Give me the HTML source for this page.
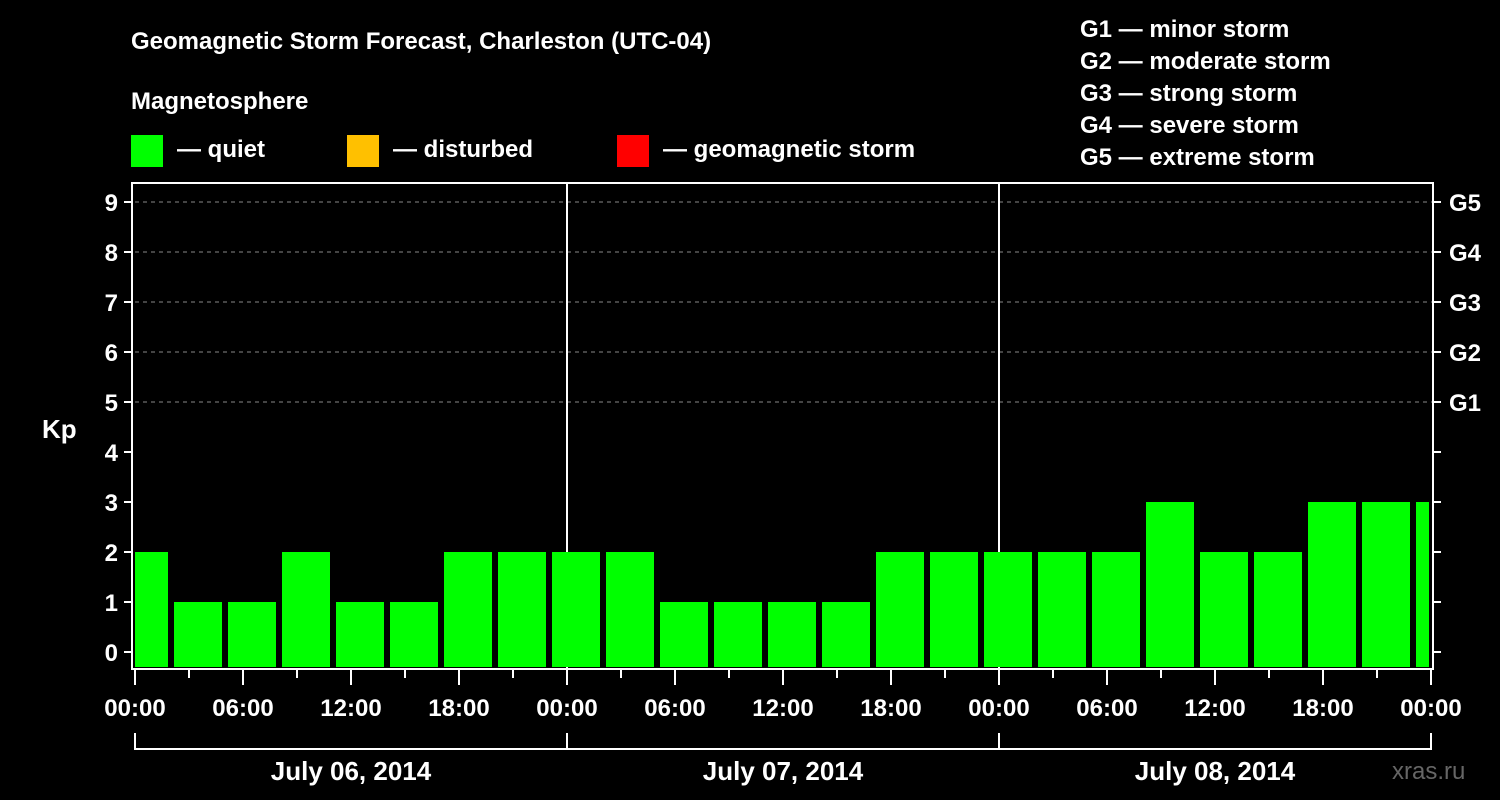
<!DOCTYPE html>
<html><head><meta charset="utf-8"><style>
html,body{margin:0;padding:0;background:#000;}
svg{display:block;font-family:"Liberation Sans",Arial,sans-serif;font-weight:bold;}
</style></head><body>
<svg id="chart" width="1500" height="800" viewBox="0 0 1500 800">
<text x="131" y="49" fill="#fff" font-size="24">Geomagnetic Storm Forecast, Charleston (UTC-04)</text>
<text x="131" y="109" fill="#fff" font-size="24">Magnetosphere</text>
<g><rect x="131" y="135" width="32" height="32" fill="#00ff00"/><text x="177" y="157" fill="#fff" font-size="24">— quiet</text></g>
<g><rect x="347" y="135" width="32" height="32" fill="#ffc000"/><text x="393" y="157" fill="#fff" font-size="24">— disturbed</text></g>
<g><rect x="617" y="135" width="32" height="32" fill="#ff0000"/><text x="663" y="157" fill="#fff" font-size="24">— geomagnetic storm</text></g>
<g fill="#fff" font-size="24">
<text x="1080" y="37">G1 — minor storm</text>
<text x="1080" y="69">G2 — moderate storm</text>
<text x="1080" y="101">G3 — strong storm</text>
<text x="1080" y="133">G4 — severe storm</text>
<text x="1080" y="165">G5 — extreme storm</text>
</g>
<text x="42" y="438" fill="#fff" font-size="26">Kp</text>
<text x="1392" y="779" fill="#666" font-size="24" font-weight="normal">xras.ru</text>
<g id="grid"></g>
<g id="bars"></g>
<g id="axes"></g>
</svg>
<script>
const kpValues=[2,1,1,2,1,1,2,2,2,2,1,1,1,1,2,2,2,2,2,3,2,2,3,3,3];
const barStartHours=[-1,2,5,8,11,14,17,20,23,26,29,32,35,38,41,44,47,50,53,56,59,62,65,68,71];
const yTicks=[0,1,2,3,4,5,6,7,8,9];
const gLabels=["G1","G2","G3","G4","G5"];
const gLevels=[5,6,7,8,9];
const xTickLabels=["00:00","06:00","12:00","18:00","00:00","06:00","12:00","18:00","00:00","06:00","12:00","18:00","00:00"];
const dayLabels=["July 06, 2014","July 07, 2014","July 08, 2014"];
const NS="http://www.w3.org/2000/svg";
const X0=135,X1=1431,HOURS=72,Y0=652,YU=50,PL=132,PR=1433,PT=183,PB=669;
const xs=h=>X0+(X1-X0)*h/HOURS, ys=v=>Y0-v*YU;
function mk(tag,attrs,parent){const e=document.createElementNS(NS,tag);for(const k in attrs)e.setAttribute(k,attrs[k]);document.getElementById(parent).appendChild(e);return e;}
// grid
gLevels.forEach(v=>{const l=mk('line',{x1:X0,x2:PR,y1:ys(v),y2:ys(v),stroke:'#888','stroke-dasharray':'4,4','stroke-width':1},'grid');

});
[1,2].forEach(d=>{const l=mk('line',{x1:xs(d*24),x2:xs(d*24),y1:PT,y2:PB,stroke:'#fff','stroke-width':2},'grid');

});
// bars
kpValues.forEach((v,i)=>{let a=Math.max(xs(barStartHours[i])+3,X0),b=Math.min(xs(barStartHours[i]+3)-3,X1-2);
const col=v>=5?'#ff0000':(v>=4?'#ffc000':'#00ff00');
const r=mk('rect',{x:a,y:ys(v),width:b-a,height:PB-2-ys(v),fill:col},'bars');

});
// frame
const f=mk('rect',{x:PL,y:PT,width:PR-PL,height:PB-PT,fill:'none',stroke:'#fff','stroke-width':2},'axes');


yTicks.forEach(v=>{mk('line',{x1:PL-8,x2:PL,y1:ys(v),y2:ys(v),stroke:'#fff','stroke-width':2},'axes');
mk('line',{x1:PR,x2:PR+8,y1:ys(v),y2:ys(v),stroke:'#fff','stroke-width':2},'axes');
const t=mk('text',{x:PL-14,y:ys(v)+9,fill:'#fff','font-size':24,'text-anchor':'end'},'axes');t.textContent=v;

});
gLabels.forEach((g,i)=>{const t=mk('text',{x:1449,y:ys(gLevels[i])+9,fill:'#fff','font-size':24},'axes');t.textContent=g;

});
for(let h=0;h<=HOURS;h+=3){const major=h%6===0;mk('line',{x1:xs(h),x2:xs(h),y1:PB,y2:major?685:678,stroke:'#fff','stroke-width':2},'axes');}
xTickLabels.forEach((s,i)=>{const t=mk('text',{x:xs(i*6),y:716,fill:'#fff','font-size':24,'text-anchor':'middle'},'axes');t.textContent=s;

});
dayLabels.forEach((s,i)=>{const a=xs(i*24),b=xs((i+1)*24);
mk('path',{d:`M${a},733V749H${b}V733`,fill:'none',stroke:'#fff','stroke-width':2},'axes');
const t=mk('text',{x:(a+b)/2,y:780,fill:'#fff','font-size':26,'text-anchor':'middle'},'axes');t.textContent=s;

});
</script>
</body></html>
